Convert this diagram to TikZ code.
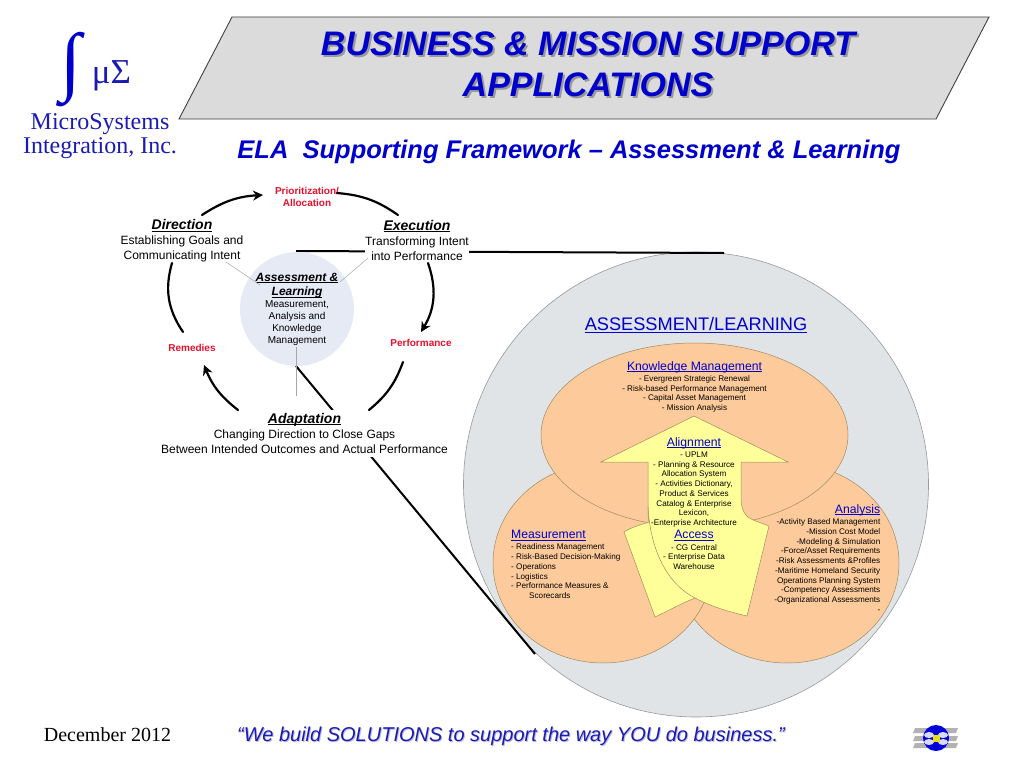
\documentclass[tikz,border=0pt]{standalone}
\usepackage{fontspec}
\setmainfont{Liberation Sans}
\newfontfamily\timesfont{Liberation Serif}
\usetikzlibrary{arrows.meta,shapes.geometric}
\definecolor{msblue}{HTML}{0000CC}
\definecolor{msnavy}{HTML}{1A1AB4}
\definecolor{msred}{HTML}{E6102D}
\definecolor{peach}{HTML}{FDCB9B}
\definecolor{paleyellow}{HTML}{FFFF99}
\definecolor{edgebrown}{HTML}{A08A60}
\definecolor{circlegray}{HTML}{E0E4E7}
\definecolor{circleblue}{HTML}{E6EAF5}
\newsavebox{\ulbox}
\newcommand{\ulbar}[1]{\sbox{\ulbox}{#1}\rlap{\rule[-1.7pt]{\wd\ulbox}{0.8pt}}\usebox{\ulbox}}
\newcommand{\headtext}[1]{{\fontsize{14}{15}\selectfont\bfseries\itshape\ulbar{#1}}}
\newcommand{\centrehead}[1]{{\fontsize{12}{14}\selectfont\bfseries\itshape\ulbar{#1}}}
\newcommand{\subhead}[1]{{\fontsize{12.2}{12}\selectfont\textcolor{msblue}{\ulbar{#1}}}}
\begin{document}
\begin{tikzpicture}[x=1pt,y=-1pt,
    bodytext/.style={inner sep=0pt,align=center,font=\fontsize{12}{15}\selectfont},
    redtext/.style={inner sep=0pt,align=center,text=msred,font=\fontsize{10}{12}\selectfont\bfseries},
    smalltext/.style={inner sep=0pt,font=\fontsize{8.15}{9.75}\selectfont},
    lobe/.style={draw=edgebrown,line width=0.5pt,fill=peach,ellipse,inner sep=0pt},
    cycle arc/.style={line width=2.2pt,line cap=round},
    cycle tip/.style={-{Stealth[length=10pt,width=10pt]}},
    guide/.style={draw=gray!70,line width=0.5pt},
    callout/.style={line width=2pt}]
    \useasboundingbox (0,0) rectangle (1024,768);

    % logo top left
    \node [inner sep=0pt,text=msblue,font=\timesfont\bfseries\fontsize{76}{76}\selectfont] (logoint) at (71,70) {∫};
    \node [inner sep=0pt,text=msnavy,font=\timesfont\fontsize{35}{35}\selectfont] (logomu) at (111.5,76) {μΣ};
    \node [inner sep=0pt,align=center,text=msnavy,font=\timesfont\fontsize{24}{23.5}\selectfont] (company) at (100,136) {MicroSystems\\Integration, Inc.};

    % title banner
    \draw [fill=black!14,line width=0.9pt,draw=black!75] (232,17) -- (989,17) -- (936,119) -- (179,119) -- cycle;
    \node [inner sep=0pt,align=center,text=gray!80,font=\fontsize{34}{41}\selectfont\bfseries\itshape] (titleshadow) at (590,66.5) {BUSINESS \& MISSION SUPPORT\\APPLICATIONS};
    \node [inner sep=0pt,align=center,text=msblue,font=\fontsize{34}{41}\selectfont\bfseries\itshape] (title) at (588,64.5) {BUSINESS \& MISSION SUPPORT\\APPLICATIONS};
    \node [inner sep=0pt,text=msblue,font=\fontsize{25.5}{25}\selectfont\bfseries\itshape] (subtitle) at (569,152) {ELA\ \ Supporting Framework – Assessment \& Learning};

    % large circle and lobes
    \node [circle,inner sep=0pt,minimum size=465,draw=gray!80,line width=0.6pt,fill=circlegray] (bigcircle) at (696,484.5) {};
    \node [lobe,minimum width=224,minimum height=200] (analysislobe) at (787,563) {};
    \node [lobe,minimum width=220,minimum height=200] (measurelobe) at (603,563) {};
    \node [lobe,minimum width=307,minimum height=184] (knowledgelobe) at (694.5,435) {};

    % yellow arrow
    \draw [draw=edgebrown,line width=0.5pt,fill=paleyellow] (694,416) -- (788,462) -- (741,462) -- (741,498)
        .. controls (741,511) and (746,517) .. (753,520) -- (769,526) -- (747,616)
        .. controls (730,612) and (712,607) .. (695,598)
        .. controls (682,603) and (668,611) .. (655,617) -- (624,532)
        .. controls (632,527) and (640,525) .. (649,522) .. controls (648,518) and (648,512) .. (648,505)
        -- (648,462) -- (601,462) -- cycle;
    \draw [draw=edgebrown,line width=0.5pt] (648,507) .. controls (650,545) and (664,582) .. (695,598);

    % black callout lines
    \coordinate (calloutA) at (296,251);
    \coordinate (calloutB) at (724,253);
    \coordinate (calloutC) at (296,366);
    \coordinate (calloutD) at (535,654);
    \draw [callout] (calloutA) -- (calloutB);
    \draw [callout] (calloutC) -- (calloutD);

    % centre circle
    \node [circle,inner sep=0pt,minimum size=114,fill=circleblue] (centre) at (297,309) {};

    % cycle labels
    \node [bodytext] (direction) at (182,241) {\headtext{Direction}\\Establishing Goals and\\Communicating Intent};
    \node [bodytext,fill=white] (execution) at (417,240.5) {\headtext{Execution}\\Transforming Intent\\into Performance};
    \node [bodytext,fill=white,minimum height=47] (adaptation) at (304.5,433.5) {\headtext{Adaptation}\\Changing Direction to Close Gaps\\Between Intended Outcomes and Actual Performance};
    \node [redtext] (priority) at (307,197) {Prioritization/\\Allocation};
    \node [redtext] (remedies) at (192,347.5) {Remedies};
    \node [redtext] (performance) at (421,342.5) {Performance};
    \node [inner sep=0pt,align=center,font=\fontsize{10}{12}\selectfont] (assessment) at (297,309.5) {\centrehead{Assessment \&}\\[2.5pt]\centrehead{Learning}\\Measurement,\\Analysis and\\Knowledge\\Management};

    % cycle arcs
    \coordinate (arcAa) at (202,215);
    \coordinate (arcAb) at (263,195);
    \coordinate (arcBa) at (337,193);
    \coordinate (arcBb) at (398,215);
    \coordinate (arcCa) at (428,263);
    \coordinate (arcCb) at (421,332);
    \coordinate (arcDa) at (403,362);
    \coordinate (arcDb) at (369,410);
    \coordinate (arcEa) at (238,410);
    \coordinate (arcEb) at (204,365);
    \coordinate (arcFa) at (183,332);
    \coordinate (arcFb) at (172,263);
    \draw [cycle arc,cycle tip] (arcAa) to[bend left=15] (arcAb);
    \draw [cycle arc] (arcBa) to[bend left=15] (arcBb);
    \draw [cycle arc,cycle tip] (arcCa) to[bend left=25] (arcCb);
    \draw [cycle arc] (arcDa) to[bend left=15] (arcDb);
    \draw [cycle arc,cycle tip] (arcEa) to[bend left=15] (arcEb);
    \draw [cycle arc] (arcFa) to[bend left=25] (arcFb);

    % thin guide lines
    \coordinate (guideA) at (226,262);
    \coordinate (guideB) at (260,285);
    \coordinate (guideC) at (368,258);
    \coordinate (guideD) at (340,282);
    \coordinate (guideE) at (296.7,347);
    \coordinate (guideF) at (296.7,396);
    \draw [guide] (guideA) -- (guideB);
    \draw [guide] (guideC) -- (guideD);
    \draw [guide] (guideE) -- (guideF);

    % text in the large circle
    \node [inner sep=0pt,text=msblue,font=\fontsize{18.2}{20}\selectfont] (mainhead) at (696,325) {\ulbar{ASSESSMENT/LEARNING}};
    \node [smalltext,align=center,anchor=north] (knowledge) at (694.5,361) {\subhead{Knowledge Management}\\[1.5pt]- Evergreen Strategic Renewal\\- Risk-based Performance Management\\- Capital Asset Management\\- Mission Analysis};
    \node [smalltext,align=center,anchor=north] (alignment) at (694,437) {\subhead{Alignment}\\[1.5pt]- UPLM\\- Planning \& Resource\\Allocation System\\- Activities Dictionary,\\Product \& Services\\Catalog \& Enterprise\\Lexicon,\\-Enterprise Architecture};
    \node [smalltext,align=center,anchor=north] (access) at (694,530.3) {\subhead{Access}\\[1.5pt]- CG Central\\- Enterprise Data\\Warehouse};
    \node [smalltext,align=left,anchor=north west] (measurement) at (511,530) {\subhead{Measurement}\\[1.5pt]- Readiness Management\\- Risk-Based Decision-Making\\- Operations\\- Logistics\\- Performance Measures \&\\\hspace*{18pt}Scorecards};
    \node [smalltext,align=right,anchor=north east] (analysis) at (880.5,504.3) {\subhead{Analysis}\\[1.5pt]-Activity Based Management\\-Mission Cost Model\\-Modeling \& Simulation\\-Force/Asset Requirements\\-Risk Assessments \&Profiles\\-Maritime Homeland Security\\Operations Planning System\\-Competency Assessments\\-Organizational Assessments\\-};

    % footer
    \node [inner sep=0pt,font=\timesfont\fontsize{20}{20}\selectfont] (datetext) at (107.5,735) {December 2012};
    \node [inner sep=0pt,text=blue!30!gray!40,font=\fontsize{20}{20}\selectfont\itshape] (slogansh) at (512,737) {“We build SOLUTIONS to support the way YOU do business.”};
    \node [inner sep=0pt,text=msnavy,font=\fontsize{20}{20}\selectfont\itshape] (slogan) at (511,736) {“We build SOLUTIONS to support the way YOU do business.”};

    % small logo bottom right
    \fill [black!30] (915,728) -- (958,728) -- (956,733) -- (913,733) -- cycle;
    \fill [black!30] (915,736) -- (958,736) -- (956,741) -- (913,741) -- cycle;
    \fill [black!30] (915,743) -- (958,743) -- (956,748) -- (913,748) -- cycle;
    \fill [blue!85!black] (936,738) circle [radius=13];
    \fill [blue!15!white] (929,735) ellipse [x radius=5,y radius=3];
    \fill [blue!15!white] (943,735) ellipse [x radius=5,y radius=3];
    \fill [blue!15!white] (929,742) ellipse [x radius=5,y radius=3];
    \fill [blue!15!white] (943,742) ellipse [x radius=5,y radius=3];
    \fill [yellow!90!black] (932.5,734.5) rectangle (939.5,741.5);
\end{tikzpicture}
\end{document}
